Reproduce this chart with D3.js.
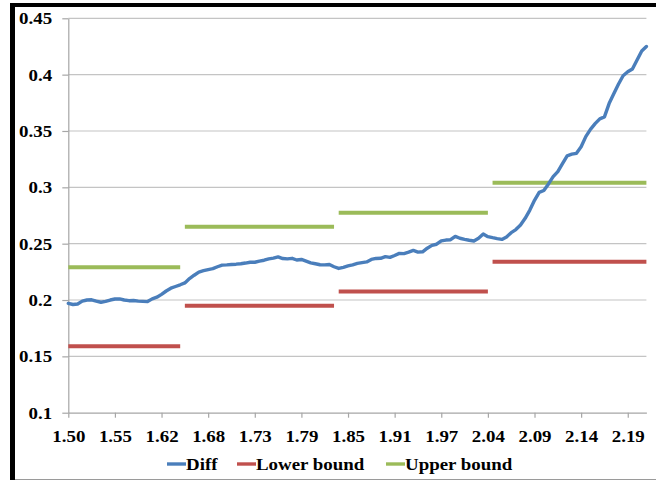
<!DOCTYPE html>
<html>
<head>
<meta charset="utf-8">
<script src="https://cdn.jsdelivr.net/npm/d3@7"></script>
<style>
  html, body { margin: 0; padding: 0; background: #fff; }
  svg { display: block; }
</style>
</head>
<body>
<svg id="chart" width="656" height="482"></svg>
<script>
// Category tick labels (one label every 10 categories)
const xTickLabels = ["1.50", "1.55", "1.62", "1.68", "1.73", "1.79", "1.85", "1.91", "1.97", "2.04", "2.09", "2.14", "2.19"];
const categoriesPerLabel = 10;

// Y axis ticks
const yTicks = [0.1, 0.15, 0.2, 0.25, 0.3, 0.35, 0.4, 0.45];
const yTickLabels = ["0.1", "0.15", "0.2", "0.25", "0.3", "0.35", "0.4", "0.45"];

// Diff series, one value per category
const diff = [
  0.197, 0.196, 0.1965, 0.199, 0.200, 0.2002, 0.199, 0.198, 0.1988, 0.200,
  0.2009, 0.201, 0.200, 0.1994, 0.1996, 0.199, 0.1988, 0.1986, 0.201, 0.2025,
  0.205, 0.208, 0.2105, 0.212, 0.2135, 0.2152, 0.219, 0.222, 0.2248, 0.226,
  0.227, 0.2278, 0.2295, 0.231, 0.2312, 0.2315, 0.2318, 0.2322, 0.2328, 0.2335,
  0.2335, 0.2345, 0.2353, 0.2365, 0.2372, 0.2383, 0.2368, 0.2365, 0.237, 0.2355,
  0.236, 0.2345, 0.233, 0.2322, 0.2313, 0.2312, 0.2315, 0.2295, 0.228, 0.229,
  0.2303, 0.2312, 0.2325, 0.2332, 0.2338, 0.236, 0.2369, 0.237, 0.2385, 0.2378,
  0.2395, 0.2414, 0.2412, 0.2425, 0.244, 0.2425, 0.2428, 0.246, 0.2485, 0.2495,
  0.2525, 0.2532, 0.2535, 0.2565, 0.2548, 0.2538, 0.253, 0.2524, 0.2548, 0.2585,
  0.2562, 0.2553, 0.2545, 0.2538, 0.256, 0.2598, 0.2625, 0.2665, 0.2725, 0.2798,
  0.2885, 0.2955, 0.2972, 0.303, 0.3095, 0.314, 0.321, 0.328, 0.3294, 0.3302,
  0.336, 0.345, 0.3515, 0.3565, 0.3608, 0.3625, 0.3743, 0.383, 0.3915, 0.399,
  0.4025, 0.405, 0.413, 0.421, 0.425
];

// Piecewise-constant bounds: each segment spans [startCategory, endCategory]
const segmentStarts = [0, 25, 58, 91];
const segmentEnds = [24, 57, 90, 124];
const lowerBound = [0.159, 0.195, 0.2075, 0.234];
const upperBound = [0.229, 0.265, 0.2775, 0.304];

const seriesNames = ["Diff", "Lower bound", "Upper bound"];
const seriesColors = ["#4A7EBB", "#C0504D", "#9BBB59"];

const FONT = "Liberation Serif";
const FONT_SIZE = 17.5;
const STRETCH = "scale(1.08,1)";

const svg = d3.select("#chart");
const W = 656, H = 482;
const plot = { left: 68.3, right: 646.4, top: 18.3, bottom: 412.7 };

const x = d3.scaleLinear().domain([0, diff.length - 1]).range([plot.left, plot.right]);
const y = d3.scaleLinear().domain([0.1, 0.45]).range([plot.bottom, plot.top]);

// outer frame
svg.append("rect").attr("width", W).attr("height", H).attr("fill", "#fff");
svg.append("line").attr("x1", 10).attr("x2", W).attr("y1", 479.5).attr("y2", 479.5)
  .attr("stroke", "#9a9a9a").attr("stroke-width", 1.2);
svg.append("line").attr("x1", 10).attr("x2", W).attr("y1", 5).attr("y2", 5)
  .attr("stroke", "#000").attr("stroke-width", 4);
svg.append("line").attr("x1", 12.5).attr("x2", 12.5).attr("y1", 3).attr("y2", 480)
  .attr("stroke", "#000").attr("stroke-width", 5);

// horizontal gridlines
svg.append("g").selectAll("line").data(yTicks.slice(1)).join("line")
  .attr("x1", plot.left).attr("x2", plot.right)
  .attr("y1", d => y(d)).attr("y2", d => y(d))
  .attr("stroke", "#c4c4c4").attr("stroke-width", 1.2);

function styleAxis(g) {
  g.attr("font-family", FONT).attr("font-size", FONT_SIZE).attr("font-weight", "bold");
  g.select(".domain").attr("stroke", "#a6a6a6").attr("stroke-width", 1.2);
  g.selectAll(".tick line").attr("stroke", "#a6a6a6").attr("stroke-width", 1.2);
  g.selectAll(".tick text").attr("fill", "#000")
    .attr("font-family", FONT).attr("font-weight", "bold").attr("font-size", FONT_SIZE)
    .attr("transform", STRETCH);
}

// y axis
const yAxis = d3.axisLeft(y).tickValues(yTicks)
  .tickFormat((d, i) => yTickLabels[i]).tickSizeInner(6).tickSizeOuter(0).tickPadding(9);
const gy = svg.append("g").attr("transform", `translate(${plot.left},0)`).call(yAxis);
styleAxis(gy);

// x axis
const xTickIdx = xTickLabels.map((_, i) => i * categoriesPerLabel);
const xAxis = d3.axisBottom(x).tickValues(xTickIdx)
  .tickFormat((d, i) => xTickLabels[i]).tickSizeInner(5).tickSizeOuter(0).tickPadding(12);
const gx = svg.append("g").attr("transform", `translate(0,${plot.bottom})`).call(xAxis);
styleAxis(gx);

// bound segments
const segs = (vals) => vals.map((v, i) => ({ x0: segmentStarts[i], x1: segmentEnds[i], v }));
[[lowerBound, seriesColors[1]], [upperBound, seriesColors[2]]].forEach(([vals, col]) => {
  svg.append("g").selectAll("line").data(segs(vals)).join("line")
    .attr("x1", d => x(d.x0)).attr("x2", d => x(d.x1))
    .attr("y1", d => y(d.v)).attr("y2", d => y(d.v))
    .attr("stroke", col).attr("stroke-width", 4);
});

// Diff line
const line = d3.line().x((d, i) => x(i)).y(d => y(d));
svg.append("path").datum(diff).attr("d", line)
  .attr("fill", "none").attr("stroke", seriesColors[0]).attr("stroke-width", 3.4)
  .attr("stroke-linejoin", "round").attr("stroke-linecap", "round");

// legend
const legendX = [167, 237, 386];
seriesNames.forEach((name, i) => {
  const item = svg.append("g").attr("transform", `translate(${legendX[i]},464)`);
  item.append("line").attr("x1", 0).attr("x2", 19)
    .attr("y1", 0).attr("y2", 0).attr("stroke", seriesColors[i]).attr("stroke-width", 3.4);
  item.append("g").attr("transform", `translate(19,6) ${STRETCH}`)
    .append("text")
    .attr("font-family", FONT).attr("font-weight", "bold").attr("font-size", FONT_SIZE)
    .attr("fill", "#000").text(name);
});
</script>
</body>
</html>
